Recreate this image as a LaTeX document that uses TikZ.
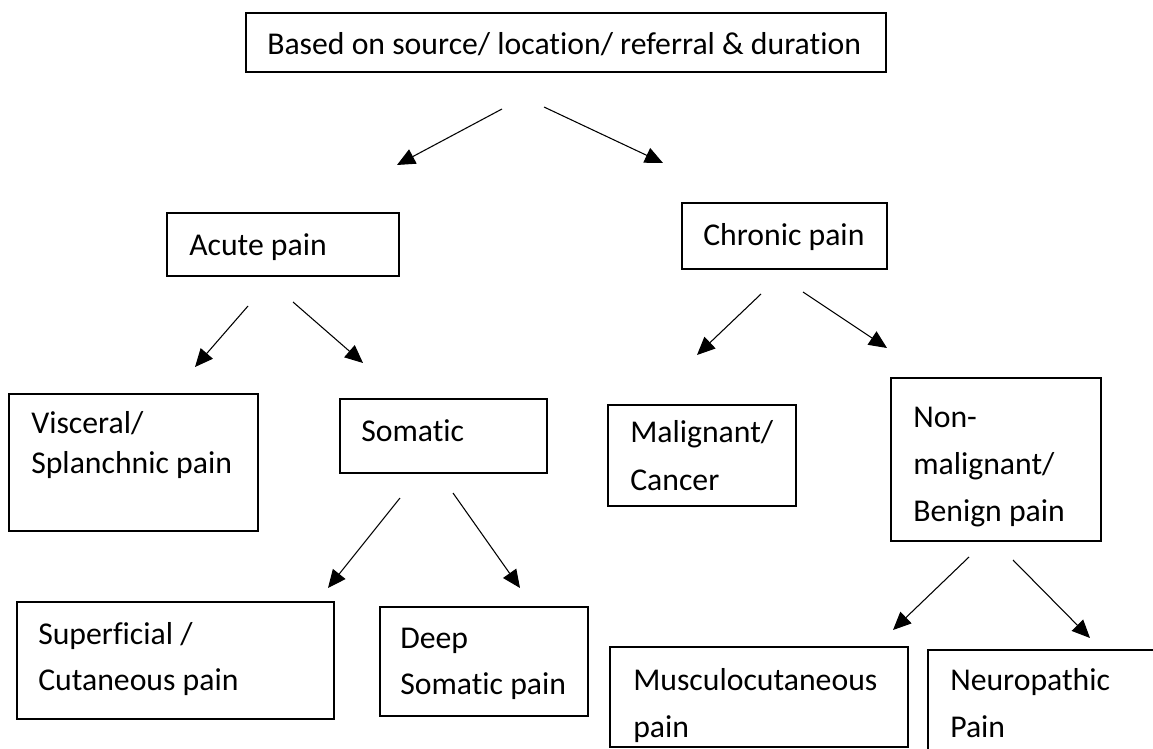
\documentclass[tikz,border=0pt]{standalone}
\usepackage{fontspec}
\setmainfont[Ligatures={NoCommon}]{Carlito}
\usetikzlibrary{arrows.meta,fit}
\begin{document}
\begin{tikzpicture}[x=0.75pt,y=-0.75pt,
  box/.style={draw=black, line width=1pt, inner sep=0pt},
  txt/.style={anchor=base west, inner sep=0pt, font=\fontsize{23.8pt}{28pt}\selectfont},
  arr/.style={line width=0.8pt, -{Triangle[length=13.5pt,width=12pt]}}]
\useasboundingbox (0,0) rectangle (1153,749);
\clip (0,0) rectangle (1153,749);
% boxes
\node[box, fit={(246,13)(886,72)}] (top) {};
\node[txt] (topT) at (267,55) {Based on source/ location/ referral \& duration};
\node[box, fit={(167,213)(399,276)}] (acute) {};
\node[txt] (acuteT) at (189,255) {Acute pain};
\node[box, fit={(682,203)(887,269)}] (chronic) {};
\node[txt] (chronicT) at (703,245) {Chronic pain};
\node[box, fit={(9,394)(258,531)}] (visc) {};
\node[txt] (viscT1) at (31,433) {Visceral/};
\node[txt] (viscT2) at (31,473) {Splanchnic pain};
\node[box, fit={(340,399)(547,473)}] (som) {};
\node[txt] (somT) at (361,441) {Somatic};
\node[box, fit={(608,405)(796,506)}] (mal) {};
\node[txt] (malT1) at (630,442) {Malignant/};
\node[txt] (malT2) at (630,490) {Cancer};
\node[box, fit={(891,378)(1101,541)}] (nonmal) {};
\node[txt] (nonmalT1) at (913,427) {Non-};
\node[txt] (nonmalT2) at (913,474) {malignant/};
\node[txt] (nonmalT3) at (913,521) {Benign pain};
\node[box, fit={(17,602)(334,719)}] (sup) {};
\node[txt] (supT1) at (38,644) {Superficial /};
\node[txt] (supT2) at (38,690) {Cutaneous pain};
\node[box, fit={(380,607)(588,716)}] (deep) {};
\node[txt] (deepT1) at (400,648) {Deep};
\node[txt] (deepT2) at (400,694) {Somatic pain};
\node[box, fit={(610,647)(908,747)}] (musc) {};
\node[txt] (muscT1) at (633,690) {Musculocutaneous};
\node[txt] (muscT2) at (633,737) {pain};
\node[box, fit={(928,650)(1180,780)}] (neuro) {};
\node[txt] (neuroT1) at (950,690) {Neuropathic};
\node[txt] (neuroT2) at (950,737) {Pain};
% arrow end points
\coordinate (a1s) at (502,109); \coordinate (a1e) at (397,165);
\coordinate (a2s) at (544,107); \coordinate (a2e) at (663,163);
\coordinate (a3s) at (248,306); \coordinate (a3e) at (195,367);
\coordinate (a4s) at (293,302); \coordinate (a4e) at (363,363);
\coordinate (a5s) at (761,294); \coordinate (a5e) at (697,355);
\coordinate (a6s) at (803,292); \coordinate (a6e) at (887,348);
\coordinate (a7s) at (400,498); \coordinate (a7e) at (328,588);
\coordinate (a8s) at (453,493); \coordinate (a8e) at (520,588);
\coordinate (a9s) at (969,557); \coordinate (a9e) at (893,630);
\coordinate (a10s) at (1013,560); \coordinate (a10e) at (1090,638);
\foreach \i in {1,...,10} {\draw[arr] (a\i s) -- (a\i e);}
\end{tikzpicture}
\end{document}
